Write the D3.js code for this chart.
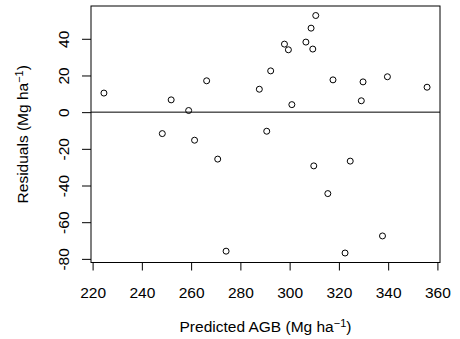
<!DOCTYPE html>
<head>
    <meta charset="utf-8">
    <title> Residuals vs Predicted AGB </title>
    <style>
        body { margin: 0; background: #fff; }
        svg { display: block; font-family: "Liberation Sans", Arial, sans-serif; }
    </style>
</head>
<body>
<svg width="460" height="339"></svg>
<script src="https://d3js.org/d3.v7.min.js"></script>
<script>

// predicted AGB (Mg/ha) and model residuals
var predicted = [224.6, 248.3, 251.9, 259.0, 261.4, 266.3, 270.8, 274.2, 287.7, 290.7,
                 292.3, 297.9, 299.5, 300.9, 306.6, 308.7, 309.4, 309.8, 310.6, 315.5,
                 317.6, 322.5, 324.6, 329.1, 329.8, 337.7, 339.7, 355.8];
var residuals = [10.4, -11.7, 6.7, 0.9, -15.3, 17.1, -25.6, -75.8, 12.5, -10.4,
                 22.5, 37.1, 34.0, 4.1, 38.2, 45.8, 34.4, -29.3, 52.7, -44.4,
                 17.6, -76.8, -26.7, 6.2, 16.5, -67.5, 19.3, 13.6];

var xTicks = [220, 240, 260, 280, 300, 320, 340, 360];
var yTicks = [-80, -60, -40, -20, 0, 20, 40];

var svg = d3.select("svg"),
    width = +svg.attr("width"),
    height = +svg.attr("height");

var margin = {left: 91, top: 6, right: 20, bottom: 76.5};
var fontSize = 15.5;

// R style axis range: data range plus 4% on each side
function rRange(v) {
    var e = d3.extent(v), p = (e[1] - e[0]) * 0.04;
    return [e[0] - p, e[1] + p];
}

// plain hyphen for negatives, like R
function plain(d) { return String(d); }

var x = d3.scaleLinear()
    .domain(rRange(predicted))
    .range([margin.left, width - margin.right]);

var y = d3.scaleLinear()
    .domain(rRange(residuals))
    .range([height - margin.bottom, margin.top]);

// x axis
var gx = svg.append("g")
    .attr("transform", "translate(0," + (height - margin.bottom) + ")")
    .call(d3.axisBottom(x).tickValues(xTicks).tickSize(8).tickFormat(plain));
gx.select(".domain").remove();
gx.selectAll("line").attr("stroke", "#000");
gx.selectAll("text")
    .attr("y", 35.2)
    .attr("dy", null)
    .attr("fill", "#000")
    .attr("font-family", null)
    .attr("font-size", fontSize);

// y axis, labels turned like R does
var gy = svg.append("g")
    .attr("transform", "translate(" + margin.left + ",0)")
    .call(d3.axisLeft(y).tickValues(yTicks).tickSize(9).tickFormat(plain));
gy.select(".domain").remove();
gy.selectAll("line").attr("stroke", "#000");
gy.selectAll("text")
    .attr("x", 0)
    .attr("y", -21.7)
    .attr("dy", null)
    .attr("transform", "rotate(-90)")
    .attr("text-anchor", "middle")
    .attr("fill", "#000")
    .attr("font-family", null)
    .attr("font-size", fontSize);

// zero line
svg.append("line")
    .attr("x1", x.range()[0])
    .attr("x2", x.range()[1])
    .attr("y1", y(0))
    .attr("y2", y(0))
    .attr("stroke", "#000")
    .attr("stroke-width", 1);

// points
svg.append("g")
    .selectAll("circle")
    .data(predicted)
    .enter().append("circle")
      .attr("cx", function(d) { return x(d); })
      .attr("cy", function(d, i) { return y(residuals[i]); })
      .attr("r", 3)
      .attr("fill", "none")
      .attr("stroke", "#000")
      .attr("stroke-width", 1);

// box
svg.append("rect")
    .attr("x", margin.left)
    .attr("y", margin.top)
    .attr("width", width - margin.left - margin.right)
    .attr("height", height - margin.top - margin.bottom)
    .attr("fill", "none")
    .attr("stroke", "#000")
    .attr("stroke-width", 1);

// axis titles
var xt = svg.append("text")
    .attr("x", (x.range()[0] + x.range()[1]) / 2)
    .attr("y", 332)
    .attr("text-anchor", "middle")
    .attr("font-size", fontSize);
xt.append("tspan").text("Predicted AGB (Mg ha");
xt.append("tspan").attr("dy", -5.5).attr("font-size", 11).text("\u22121");
xt.append("tspan").attr("dy", 5.5).text(")");

var yt = svg.append("text")
    .attr("transform", "translate(28," + ((y.range()[0] + y.range()[1]) / 2) + ") rotate(-90)")
    .attr("text-anchor", "middle")
    .attr("font-size", fontSize);
yt.append("tspan").text("Residuals (Mg ha");
yt.append("tspan").attr("dy", -5.5).attr("font-size", 11).text("\u22121");
yt.append("tspan").attr("dy", 5.5).text(")");

</script>
</body>
